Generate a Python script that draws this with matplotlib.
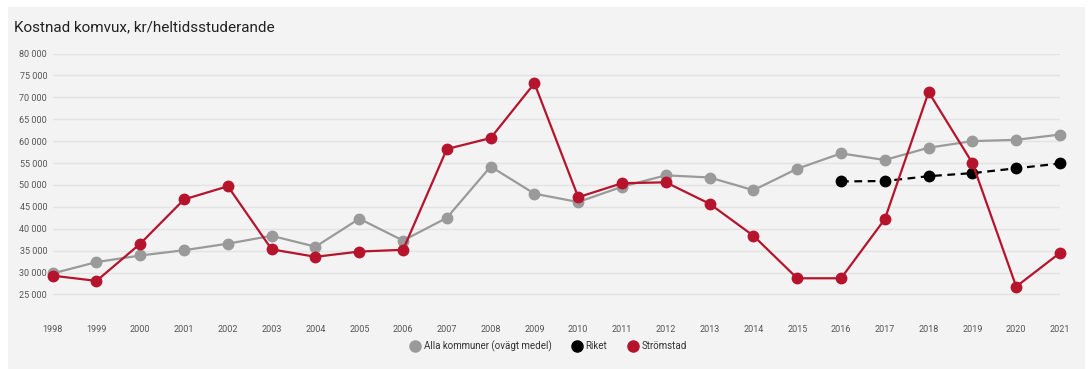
import matplotlib
matplotlib.use("Agg")
import matplotlib.pyplot as plt
from matplotlib.patches import Rectangle
from matplotlib.lines import Line2D
from matplotlib.ticker import FuncFormatter

plt.rcParams['font.family'] = ['Roboto', 'DejaVu Sans']

# data
years = list(range(1998, 2022))
alla = [29800, 32400, 33900, 35100, 36600, 38400, 35900, 42300, 37300, 42500,
        54200, 48000, 46100, 49600, 52200, 51700, 48800, 53700, 57200, 55700,
        58500, 60000, 60300, 61500]
stromstad = [29300, 28100, 36600, 46700, 49700, 35300, 33600, 34800, 35200, 58200,
             60700, 73200, 47200, 50400, 50600, 45700, 38400, 28700, 28700, 42200,
             71200, 55000, 26800, 34500]
riket_years = [2016, 2017, 2018, 2019, 2020, 2021]
riket = [50800, 50900, 52000, 52700, 53800, 54900]

yticks = list(range(25000, 80001, 5000))

red = '#b5142c'
grey = '#9a9a9a'

fig = plt.figure(figsize=(10.91, 3.69), dpi=100)
fig.patch.set_facecolor('white')
fig.patches.append(Rectangle((8 / 1091, 0), 1077 / 1091, 1 - 7 / 369,
                             transform=fig.transFigure, facecolor='#f3f3f3',
                             edgecolor='none', zorder=-10))

fig.text(14 / 1091, 1 - 27 / 369, 'Kostnad komvux, kr/heltidsstuderande',
         fontsize=11, color='#222222', va='center', ha='left')

ax = fig.add_axes([52.7 / 1091, 1 - 316.4 / 369, 1007.3 / 1091, (316.4 - 53.5) / 369])
ax.set_zorder(2)
ax.set_facecolor('none')
ax.set_xlim(1998, 2021)
ax.set_ylim(20000, 80000)

for s in ax.spines.values():
    s.set_visible(False)
ax.set_yticks(yticks)
ax.yaxis.set_major_formatter(FuncFormatter(lambda v, p: f'{int(v):,}'.replace(',', ' ')))
ax.set_xticks(years)
ax.set_xticklabels([str(y) for y in years])
ax.tick_params(axis='both', length=0, labelsize=6.5, labelcolor='#555555')
ax.tick_params(axis='y', pad=4)
ax.tick_params(axis='x', pad=6)
ax.grid(axis='y', color='#e3e3e3', linewidth=1)
ax.set_axisbelow(True)

ax.plot(years, alla, color=grey, lw=1.6, marker='o', ms=7.5, clip_on=False, zorder=3)
ax.plot(riket_years, riket, color='black', lw=1.6, ls=(0, (3.5, 2.5)), marker='o', ms=7.5,
        clip_on=False, zorder=4)
ax.plot(years, stromstad, color=red, lw=1.6, marker='o', ms=7.5, clip_on=False, zorder=5)

handles = [Line2D([], [], ls='none', marker='o', ms=8, color=grey),
           Line2D([], [], ls='none', marker='o', ms=8, color='black'),
           Line2D([], [], ls='none', marker='o', ms=8, color=red)]
labels = ['Alla kommuner (ovägt medel)', 'Riket', 'Strömstad']
fig.legend(handles, labels, loc='center', bbox_to_anchor=(548 / 1091, 1 - 346 / 369),
           ncol=3, frameon=False, fontsize=7, handletextpad=0.3, columnspacing=2.0,
           handlelength=1.2, labelcolor='#333333')

fig.savefig('out.png', dpi=100)
